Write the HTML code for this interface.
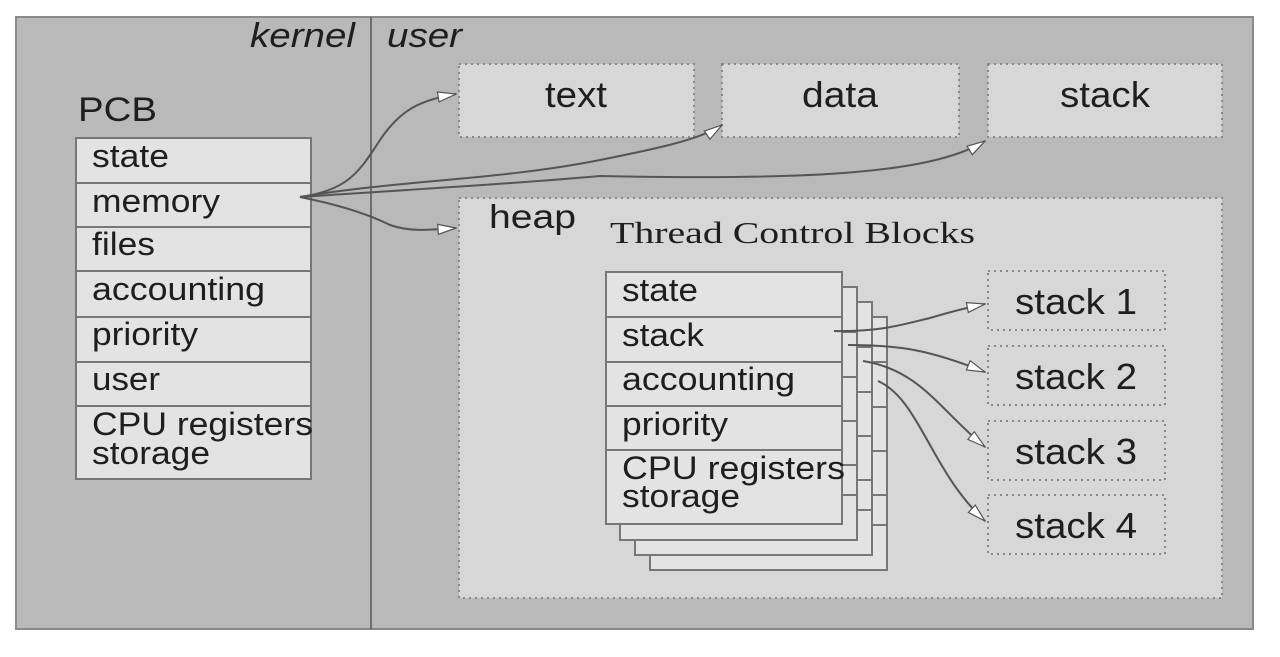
<!DOCTYPE html>
<html><head><meta charset="utf-8"><style>
html,body{margin:0;padding:0;background:#fff}
svg{display:block}
text{font-family:"Liberation Sans",sans-serif;fill:#1e1e1e}
</style></head><body>
<svg width="1280" height="657" viewBox="0 0 1280 657" xmlns="http://www.w3.org/2000/svg">
<defs>
<marker id="a" viewBox="0 0 20 12" refX="19" refY="6" markerWidth="20" markerHeight="12" markerUnits="userSpaceOnUse" orient="auto">
<path d="M1,1 L19,6 L1,11 Z" fill="#fff" stroke="#555" stroke-width="1.2"/>
</marker>
</defs>
<rect x="16" y="17" width="1237" height="612" fill="#b9b9b9" stroke="#8a8a8a" stroke-width="2"/>
<line x1="371" y1="17" x2="371" y2="629" stroke="#555" stroke-width="1.5"/>
<g font-size="34" font-style="italic" lengthAdjust="spacingAndGlyphs">
<text x="250" y="47" textLength="105" lengthAdjust="spacingAndGlyphs">kernel</text>
<text x="387" y="47" textLength="75" lengthAdjust="spacingAndGlyphs">user</text>
</g>

<g fill="#d7d7d7" stroke="#888" stroke-width="2" stroke-dasharray="2,4">
<rect x="459" y="64" width="235" height="73"/>
<rect x="722" y="64" width="237" height="73"/>
<rect x="988" y="64" width="234" height="73"/>
<rect x="459" y="198" width="763" height="400"/>
<rect x="988" y="271" width="177" height="59"/>
<rect x="988" y="346" width="177" height="59"/>
<rect x="988" y="421" width="177" height="59"/>
<rect x="988" y="495" width="177" height="59"/>
</g>
<g font-size="36">
<text x="545" y="107" textLength="62" lengthAdjust="spacingAndGlyphs">text</text>
<text x="802" y="107" textLength="76" lengthAdjust="spacingAndGlyphs">data</text>
<text x="1060" y="107" textLength="90" lengthAdjust="spacingAndGlyphs">stack</text>
<text x="1015" y="314" textLength="122" lengthAdjust="spacingAndGlyphs">stack 1</text>
<text x="1015" y="389" textLength="122" lengthAdjust="spacingAndGlyphs">stack 2</text>
<text x="1015" y="464" textLength="122" lengthAdjust="spacingAndGlyphs">stack 3</text>
<text x="1015" y="538" textLength="122" lengthAdjust="spacingAndGlyphs">stack 4</text>
</g>
<text x="489" y="228" font-size="33" textLength="87" lengthAdjust="spacingAndGlyphs">heap</text>
<text x="78" y="121" font-size="34" textLength="79" lengthAdjust="spacingAndGlyphs">PCB</text>

<rect x="76" y="138" width="235" height="341" fill="#e3e3e3" stroke="#777" stroke-width="2"/>
<g stroke="#777" stroke-width="2">
<line x1="76" y1="183" x2="311" y2="183"/>
<line x1="76" y1="227" x2="311" y2="227"/>
<line x1="76" y1="271" x2="311" y2="271"/>
<line x1="76" y1="317" x2="311" y2="317"/>
<line x1="76" y1="362" x2="311" y2="362"/>
<line x1="76" y1="406" x2="311" y2="406"/>
</g>
<g font-size="32">
<text x="92" y="167" textLength="77" lengthAdjust="spacingAndGlyphs">state</text>
<text x="92" y="212" textLength="128" lengthAdjust="spacingAndGlyphs">memory</text>
<text x="92" y="255" textLength="63" lengthAdjust="spacingAndGlyphs">files</text>
<text x="92" y="300" textLength="173" lengthAdjust="spacingAndGlyphs">accounting</text>
<text x="92" y="345" textLength="106" lengthAdjust="spacingAndGlyphs">priority</text>
<text x="92" y="390" textLength="68" lengthAdjust="spacingAndGlyphs">user</text>
<text x="92" y="435" textLength="221" lengthAdjust="spacingAndGlyphs">CPU registers</text>
<text x="92" y="464" textLength="118" lengthAdjust="spacingAndGlyphs">storage</text>
</g>

<text x="610" y="243" font-size="31" style="font-family:'Liberation Serif',serif" fill="#111" textLength="365" lengthAdjust="spacingAndGlyphs">Thread Control Blocks</text>

<g fill="#e3e3e3" stroke="#777" stroke-width="2">
<rect x="650" y="317" width="237" height="253"/>
<rect x="635" y="302" width="237" height="253"/>
<rect x="620" y="287" width="237" height="253"/>
<rect x="606" y="272" width="236" height="252"/>
</g>
<g stroke="#777" stroke-width="2">
<line x1="606" y1="317" x2="842" y2="317"/>
<line x1="606" y1="362" x2="842" y2="362"/>
<line x1="606" y1="406" x2="842" y2="406"/>
<line x1="606" y1="450" x2="842" y2="450"/>
<path d="M842 332h15M842 377h15M842 421h15M842 465h15M842 495h15M857 347h15M857 392h15M857 436h15M857 480h15M857 510h15M872 362h15M872 407h15M872 451h15M872 495h15M872 525h15"/>
</g>
<g font-size="32">
<text x="622" y="301" textLength="76" lengthAdjust="spacingAndGlyphs">state</text>
<text x="622" y="346" textLength="82" lengthAdjust="spacingAndGlyphs">stack</text>
<text x="622" y="390" textLength="173" lengthAdjust="spacingAndGlyphs">accounting</text>
<text x="622" y="435" textLength="106" lengthAdjust="spacingAndGlyphs">priority</text>
<text x="622" y="479" textLength="223" lengthAdjust="spacingAndGlyphs">CPU registers</text>
<text x="622" y="507" textLength="118" lengthAdjust="spacingAndGlyphs">storage</text>
</g>

<g fill="none" stroke="#555" stroke-width="2" marker-end="url(#a)">
<path d="M300 197 C350 190 360 170 380 140 C400 110 420 100 456 94"/>
<path d="M300 197 C400 180 500 180 600 160 C650 150 700 140 722 125"/>
<path d="M300 197 C400 190 500 185 600 176 C800 180 930 175 985 141"/>
<path d="M300 197 C340 205 370 215 390 225 C410 232 430 230 456 228"/>
<path d="M834 331 C880 332 900 325 930 318 C950 312 965 308 985 304"/>
<path d="M848 345 C900 345 930 350 985 372"/>
<path d="M863 361 C920 370 940 410 985 447"/>
<path d="M878 381 C920 400 930 470 985 521"/>
</g>
</svg>
</body></html>
